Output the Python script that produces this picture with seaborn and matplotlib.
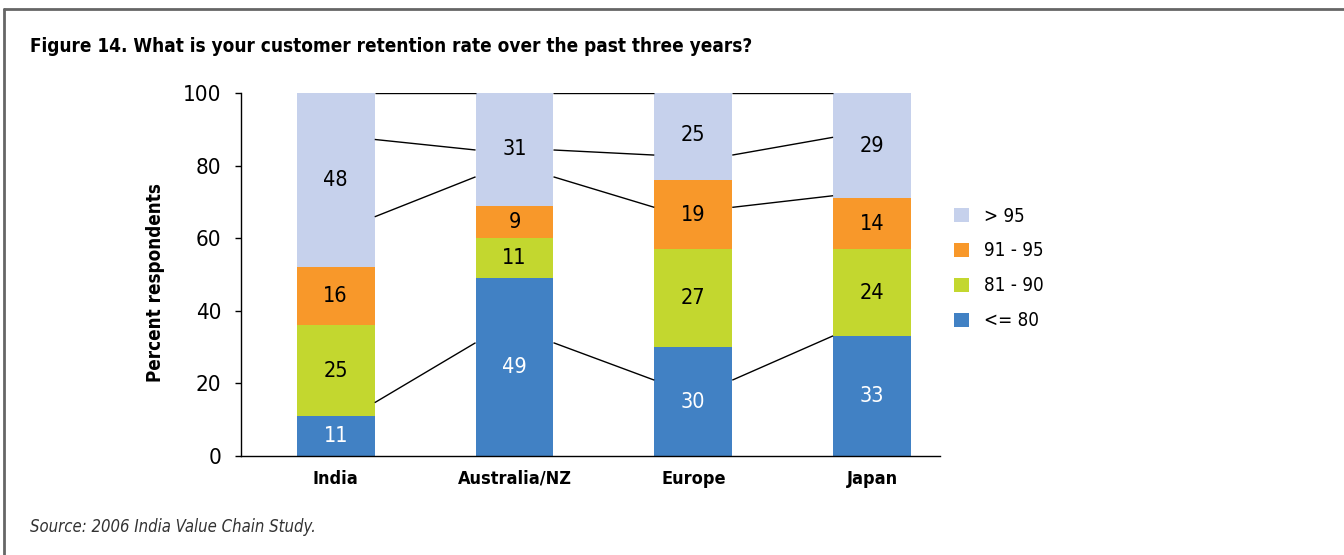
import numpy as np
import matplotlib
matplotlib.use("Agg")
import matplotlib.pyplot as plt
from matplotlib.patches import Patch
from matplotlib.lines import Line2D
from matplotlib import font_manager
import seaborn as sns

# Data
regions = ["India", "Australia/NZ", "Europe", "Japan"]
le_80 = [11, 49, 30, 33]
r81_90 = [25, 11, 27, 24]
r91_95 = [16, 9, 19, 14]
gt_95 = [48, 31, 25, 29]
series_names = ["<= 80", "81 - 90", "91 - 95", "> 95"]
colors = ["#4181C4", "#C3D72F", "#F8982A", "#C6D1EC"]
label_colors = ["white", "black", "black", "black"]

# connector lines between the bars (levels at each bar)
link_1 = [14.7, 31.2, 20.9, 33.1]
link_2 = [65.9, 76.9, 68.5, 71.7]
link_3 = [87.2, 84.3, 82.9, 87.8]
link_4 = [100, 100, 100, 100]

sns.set_style("white")
names = {f.name for f in font_manager.fontManager.ttflist}
base = "Liberation Sans Narrow" if "Liberation Sans Narrow" in names else "DejaVu Sans"
plt.rcParams["font.family"] = [base, "DejaVu Sans"]
if base == "DejaVu Sans":
    plt.rcParams["font.stretch"] = "condensed"
for key in ["text.color", "axes.labelcolor", "xtick.color", "ytick.color"]:
    plt.rcParams[key] = "black"

fig = plt.figure(figsize=(13.44, 5.55), dpi=100)
ax = fig.add_axes([241 / 1344, 99 / 555, 699 / 1344, 363 / 555])

segments = [le_80, r81_90, r91_95, gt_95]
cum = np.cumsum(np.array(segments), axis=0)
bar_w = 0.436

# stacked bars: draw totals from the top segment down so each overlays the previous
for k in range(len(segments) - 1, -1, -1):
    sns.barplot(x=regions, y=cum[k], color=colors[k], saturation=1,
                width=bar_w, ax=ax, linewidth=0, zorder=2)

# segment value labels
for k, seg in enumerate(segments):
    for i, v in enumerate(seg):
        mid = cum[k][i] - v / 2
        ax.text(i, mid, f"{v}", ha="center", va="center", fontsize=15.5,
                color=label_colors[k], zorder=4)

# connector lines from bar to bar
for link in [link_1, link_2, link_3, link_4]:
    for i in range(len(regions) - 1):
        ax.plot([i + bar_w / 2, i + 1 - bar_w / 2], [link[i], link[i + 1]],
                color="black", lw=1, zorder=3, solid_capstyle="butt")

ax.set_xlim(-0.53, 3.38)
ax.set_ylim(0, 100)
ax.set_yticks(np.arange(0, 101, 20))
ax.tick_params(axis="y", direction="out", length=4, width=1, pad=10,
               labelsize=16, colors="black", left=True)
ax.tick_params(axis="x", length=0, pad=10, labelsize=13)
for lab in ax.get_xticklabels():
    lab.set_fontweight("bold")
ax.set_xlabel("")
ax.set_ylabel("Percent respondents", fontsize=13.5, fontweight="bold")
ax.yaxis.set_label_coords(-0.109, 0.479)
for side in ["top", "right"]:
    ax.spines[side].set_visible(False)
for side in ["left", "bottom"]:
    ax.spines[side].set_color("black")
    ax.spines[side].set_linewidth(1)

handles = [Patch(facecolor=colors[k], edgecolor="none", label=series_names[k])
           for k in range(len(segments) - 1, -1, -1)]
fig.legend(handles=handles, loc="upper left", bbox_to_anchor=(946 / 1344, 1 - 199 / 555),
           frameon=False, fontsize=13.5, handlelength=0.8, handleheight=0.8,
           handletextpad=0.8, labelspacing=0.85, borderaxespad=0)

fig.text(30 / 1344, 1 - 47 / 555, "Figure 14. What is your customer retention rate over the past three years?",
         fontsize=13.6, fontweight="bold", va="center", ha="left")
fig.text(30 / 1344, 1 - 527 / 555, "Source: 2006 India Value Chain Study.",
         fontsize=12, style="italic", va="center", ha="left", color="#333333")

# frame around the figure (cut at right and bottom)
fig.add_artist(Line2D([4 / 1344, 1], [1 - 9 / 555, 1 - 9 / 555], color="#666666", lw=2,
                      transform=fig.transFigure))
fig.add_artist(Line2D([4 / 1344, 4 / 1344], [0, 1 - 9 / 555], color="#666666", lw=2,
                      transform=fig.transFigure))

fig.savefig("out.png", dpi=100)
